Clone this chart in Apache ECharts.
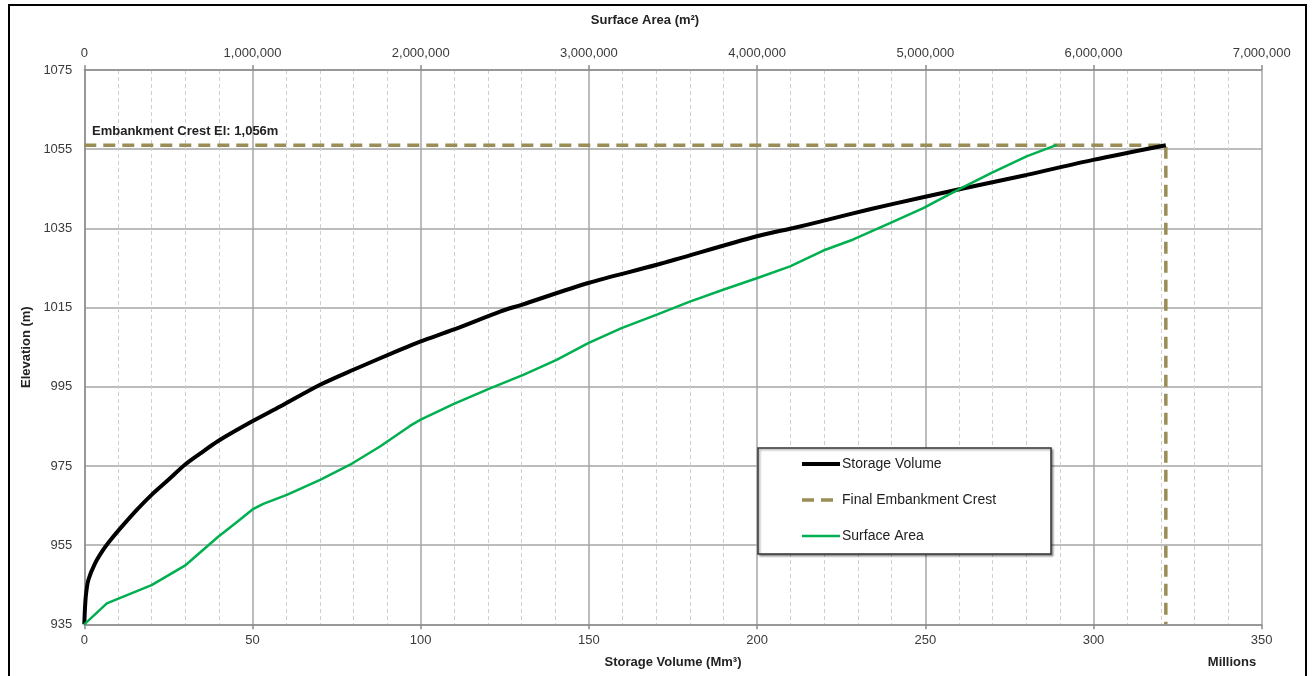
<!DOCTYPE html>
<html>
<head>
<meta charset="utf-8">
<script src="https://cdn.jsdelivr.net/npm/echarts@6/dist/echarts.min.js"></script>
<style>
html,body{margin:0;padding:0;background:#fff;}
#chart{width:1312px;height:676px;}
</style>
</head>
<body>
<div id="chart"></div>
<script>
// ---- Data ----
// Storage Volume curve (Mm³ vs elevation m)
const storageVolume = [0, 0.2, 0.5, 1.2, 3.2, 5.6, 8.1, 11.6, 15.6, 20, 25, 29.9, 34.4, 39.8, 49.8, 58.2, 70.1, 80, 93.8, 99.8, 109.7, 123.6, 130, 149.8, 170.2, 199.9, 210.8, 218.7, 227.6, 239.5, 259.8, 280.1, 299.9, 321.5];
const storageElev   = [935, 939, 942.5, 946.2, 950.4, 953.8, 956.6, 960.1, 963.9, 967.7, 971.5, 975.3, 978.1, 981.3, 986.2, 990, 995.5, 999.3, 1004.3, 1006.4, 1009.4, 1014, 1015.7, 1021.2, 1025.8, 1033, 1035.1, 1036.7, 1038.6, 1041, 1044.8, 1048.5, 1052.3, 1056];
// Surface Area curve (m² vs elevation m)
const surfaceArea = [0, 134000, 192000, 400000, 598000, 796000, 906000, 1000000, 1064000, 1204000, 1402000, 1580000, 1758000, 1936000, 2000000, 2194000, 2412000, 2610000, 2808000, 2996000, 3194000, 3404000, 3600000, 3798000, 3998000, 4196000, 4394000, 4572000, 4790000, 4988000, 5196000, 5394000, 5602000, 5782000];
const surfaceElev = [935, 940.3, 941.3, 944.9, 949.8, 957.1, 960.8, 964, 965.4, 967.7, 971.5, 975.3, 979.9, 985.1, 986.7, 990.6, 994.6, 998, 1001.8, 1006, 1009.8, 1013.2, 1016.5, 1019.5, 1022.4, 1025.4, 1029.4, 1032.2, 1036.3, 1040.1, 1044.8, 1049, 1053.2, 1056.1];
// Final Embankment Crest line
const crestVolume = [0, 321.5, 321.5];
const crestElev   = [1056, 1056, 935];
// Axis settings
const elevMin = 935, elevMax = 1075, elevStep = 20;
const volMin = 0, volMax = 350, volStep = 50;
const areaMin = 0, areaMax = 7000000, areaStep = 1000000;
const seriesNames = ['Storage Volume', 'Final Embankment Crest', 'Surface Area'];

const zip = (a, b) => a.map((v, i) => [v, b[i]]);
const FONT = '"Liberation Sans", Arial, sans-serif';
const labelColor = '#3a3a3a';
const lineW = [4, 3.5, 2.5];

const chart = echarts.init(document.getElementById('chart'), null, {renderer: 'canvas'});
chart.setOption({
  animation: false,
  backgroundColor: '#fff',
  textStyle: {fontFamily: FONT},
  grid: {left: 84.3, right: 50.3, top: 70, bottom: 51.7, containLabel: false},
  xAxis: [{
    type: 'value', position: 'bottom', min: volMin, max: volMax, interval: volStep,
    name: 'Storage Volume (Mm³)', nameLocation: 'middle', nameGap: 32,
    nameTextStyle: {fontFamily: FONT, fontWeight: 'bold', fontSize: 13, color: '#222'},
    axisLine: {show: true, lineStyle: {color: '#8c8c8c', width: 1.5}},
    axisTick: {show: true, length: 5, lineStyle: {color: '#8c8c8c', width: 1.5}},
    axisLabel: {fontFamily: FONT, fontSize: 13, color: labelColor, margin: 10},
    splitLine: {show: true, lineStyle: {color: '#a6a6a6', width: 1.5}},
    minorTick: {show: false, splitNumber: 5},
    minorSplitLine: {show: true, lineStyle: {color: '#cfcfcf', width: 1, type: [4, 3]}}
  }, {
    type: 'value', position: 'top', min: areaMin, max: areaMax, interval: areaStep,
    name: 'Surface Area (m²)', nameLocation: 'middle', nameGap: 43,
    nameTextStyle: {fontFamily: FONT, fontWeight: 'bold', fontSize: 13, color: '#222', padding: [0, 56, 0, 0]},
    axisLine: {show: true, lineStyle: {color: '#8c8c8c', width: 1.5}},
    axisTick: {show: true, length: 5, lineStyle: {color: '#8c8c8c', width: 1.5}},
    axisLabel: {fontFamily: FONT, fontSize: 13, color: labelColor, margin: 10,
      formatter: v => v.toLocaleString('en-US')},
    splitLine: {show: false}
  }],
  yAxis: [{
    type: 'value', min: elevMin, max: elevMax, interval: elevStep,
    name: 'Elevation (m)', nameLocation: 'middle', nameGap: 47, nameRotate: 90,
    nameTextStyle: {fontFamily: FONT, fontWeight: 'bold', fontSize: 13, color: '#222'},
    axisLine: {show: true, lineStyle: {color: '#8c8c8c', width: 1.5}},
    axisTick: {show: false},
    axisLabel: {fontFamily: FONT, fontSize: 13, color: labelColor, margin: 12, formatter: v => String(v)},
    splitLine: {show: true, lineStyle: {color: '#a6a6a6', width: 1.5}}
  }],
  legend: {
    show: true, orient: 'vertical', left: 800, top: 457, z: 20,
    itemWidth: 38, itemHeight: 14, itemGap: 22, padding: 0,
    itemStyle: {color: 'rgba(0,0,0,0)', borderWidth: 0, opacity: 0},
    data: seriesNames.map((n, i) => ({name: n, lineStyle: {width: lineW[i]}})),
    textStyle: {fontFamily: FONT, fontSize: 14, color: '#222', padding: [0, 0, 0, -3]}
  },
  series: [{
    name: seriesNames[0], type: 'line', xAxisIndex: 0, yAxisIndex: 0,
    data: zip(storageVolume, storageElev), showSymbol: false, symbol: 'none', smooth: 0.3,
    lineStyle: {color: '#000', width: lineW[0]}, itemStyle: {color: '#000'}, z: 3
  }, {
    name: seriesNames[1], type: 'line', xAxisIndex: 0, yAxisIndex: 0,
    data: zip(crestVolume, crestElev), showSymbol: false, symbol: 'none',
    lineStyle: {color: '#9a8d55', width: lineW[1], type: [12, 7]}, itemStyle: {color: '#9a8d55'}, z: 2
  }, {
    name: seriesNames[2], type: 'line', xAxisIndex: 1, yAxisIndex: 0,
    data: zip(surfaceArea, surfaceElev), showSymbol: false, symbol: 'none', smooth: false,
    lineStyle: {color: '#00b050', width: lineW[2]}, itemStyle: {color: '#00b050'}, z: 4
  }],
  graphic: [
    {type: 'rect', z: 0, silent: true, shape: {x: 9, y: 5, width: 1297, height: 690},
      style: {fill: 'none', stroke: '#000', lineWidth: 2}},
    {type: 'rect', z: 5, silent: true, shape: {x: 758, y: 448, width: 293, height: 106},
      style: {fill: '#fff', stroke: '#333', lineWidth: 1.5, shadowBlur: 2, shadowOffsetX: 1.5, shadowOffsetY: 1.5, shadowColor: 'rgba(0,0,0,0.35)'}},
    {type: 'text', z: 6, silent: true, x: 92, y: 131,
      style: {text: 'Embankment Crest El: 1,056m', font: 'bold 13px ' + FONT, fill: '#222', verticalAlign: 'middle', align: 'left'}},
    {type: 'text', z: 6, silent: true, x: 1232, y: 662,
      style: {text: 'Millions', font: 'bold 13px ' + FONT, fill: '#222', verticalAlign: 'middle', align: 'center'}}
  ]
});
</script>
</body>
</html>
